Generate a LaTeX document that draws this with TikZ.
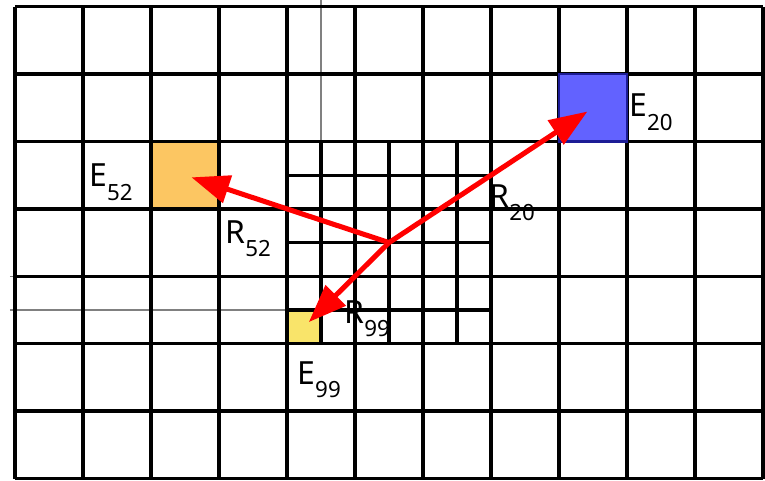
\documentclass[tikz,border=0pt]{standalone}
\usepackage{fontspec}
\setmainfont{Noto Sans}
\usetikzlibrary{arrows.meta}
\definecolor{orange52}{RGB}{252,198,98}
\definecolor{yellow99}{RGB}{249,228,106}
\definecolor{blue20}{RGB}{98,98,255}
\definecolor{edge20}{RGB}{28,28,150}
\newcommand{\lab}[2]{{\fontsize{22.7}{26}\selectfont #1\raisebox{-9.9pt}{\fontsize{15.9}{18}\selectfont #2}}}

\begin{document}
\begin{tikzpicture}[x=1.7cm, y=1.685cm,
    coarse/.style={line width=2.5pt, black},
    fine/.style={line width=2.3pt, black},
    faint/.style={line width=1pt, gray},
    cell/.style={inner sep=0pt, minimum width=1.7cm, minimum height=1.685cm},
    halfcell/.style={inner sep=0pt, minimum width=0.85cm, minimum height=0.8425cm},
    ray/.style={-{Triangle[length=0.95cm, width=0.7cm]}, line width=3.6pt, red, shorten >=0.17cm},
    lbl/.style={inner sep=0pt, anchor=base west}]
\useasboundingbox (-0.2206,-0.0223) rectangle (11.029,7.0994);
    % Các ô tô màu (dưới lưới)
    \node[cell, fill=orange52] (e52) at (2.5,4.5) {};
    \node[halfcell, fill=yellow99] (e99) at (4.25,2.25) {};
    % Các đường mờ
    \draw[faint] (4.5,5) -- (4.5,7.0994);
    \draw[faint] (-0.074,2.5) -- (4,2.5);
    \draw[faint] (-0.074,3) -- (0,3);
    % Lưới mịn
    \foreach \x in {4.5,5.5,6.5} {
        \draw[fine] (\x,2) -- (\x,5);
    }
    \foreach \y in {2.5,3.5,4.5} {
        \draw[fine] (4,\y) -- (7,\y);
    }
    % Lưới thô
    \foreach \x in {0,...,11} {
        \draw[coarse] (\x,0) -- (\x,7);
    }
    \foreach \y in {0,...,7} {
        \draw[coarse] (0,\y) -- (11,\y);
    }
    \node[cell, fill=blue20, draw=edge20, line width=1.8pt] (e20) at (8.5,5.5) {};

    % Mũi tên
    \coordinate (o) at (5.5,3.5);
    \draw[ray] (o) -- (e52.center);
    \draw[ray] (o) -- (e20.center);
    \draw[ray] (o) -- (e99.center);

    % Nhãn
    \node[lbl] (le52) at (1.09,4.325) {\lab{E}{52}};
    \node[lbl] (lr52) at (3.09,3.494) {\lab{R}{52}};
    \node[lbl] (lr20) at (6.975,4.028) {\lab{R}{20}};
    \node[lbl] (le20) at (9.03,5.364) {\lab{E}{20}};
    \node[lbl] (lr99) at (4.84,2.307) {\lab{R}{99}};
    \node[lbl] (le99) at (4.15,1.402) {\lab{E}{99}};
\end{tikzpicture}
\end{document}
